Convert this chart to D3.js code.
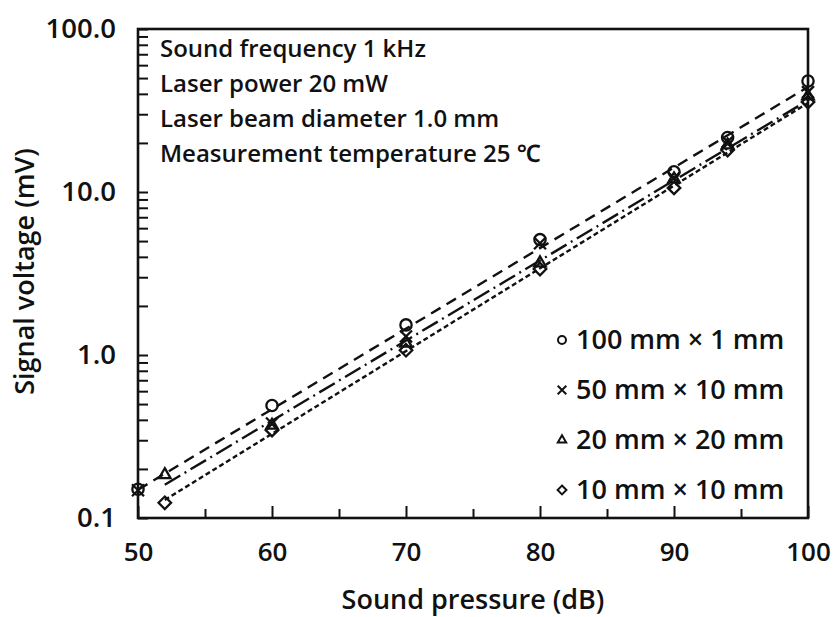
<!DOCTYPE html>
<html>
<head>
<meta charset="utf-8">
<script src="https://cdn.jsdelivr.net/npm/d3@7/dist/d3.min.js"></script>
<style>
  html, body { margin: 0; padding: 0; background: #fff; }
  svg text { font-family: "Open Sans", "Noto Sans", sans-serif; font-weight: 600; fill: #111; }
</style>
</head>
<body>
<svg id="chart" width="833" height="617"></svg>
<script>
// Measured signal voltage (mV) against sound pressure (dB) for four sensor sizes
const seriesNames = ["100 mm × 1 mm", "50 mm × 10 mm", "20 mm × 20 mm", "10 mm × 10 mm"];
const seriesSymbols = ["circle", "cross", "triangle", "diamond"];

const pressure100x1 = [50, 60, 70, 80, 90, 94, 100];
const voltage100x1 = [0.150, 0.49, 1.53, 5.1, 13.3, 21.6, 48.0];

const pressure50x10 = [50, 60, 70, 80, 90, 94, 100];
const voltage50x10 = [0.148, 0.38, 1.30, 4.85, 12.2, 20.3, 41.0];

const pressure20x20 = [52, 60, 70, 80, 90, 94, 100];
const voltage20x20 = [0.184, 0.37, 1.18, 3.67, 12.0, 19.4, 38.8];

const pressure10x10 = [52, 60, 70, 80, 90, 94, 100];
const voltage10x10 = [0.124, 0.346, 1.07, 3.37, 10.6, 18.1, 35.6];

// Fitted trend lines: [start dB, start mV, end dB, end mV]
const fitTop = [50, 0.149, 100, 44.1];
const fitMiddle = [52, 0.16, 100, 36.5];
const fitBottom = [52, 0.129, 100, 35.2];

const xTicks = [50, 60, 70, 80, 90, 100];
const xMinorTicks = [55, 65, 75, 85, 95];
const yTicks = [0.1, 1, 10, 100];
const yTickLabels = ["0.1", "1.0", "10.0", "100.0"];

const notes = [
  "Sound frequency 1 kHz",
  "Laser power 20 mW",
  "Laser beam diameter 1.0 mm",
  "Measurement temperature 25 ℃"
];

const svg = d3.select("#chart");
const plot = { left: 138, right: 808, top: 29, bottom: 518 };

const x = d3.scaleLinear().domain([50, 100]).range([plot.left, plot.right]);
const y = d3.scaleLog().domain([0.1, 100]).range([plot.bottom, plot.top]);

// minor log ticks inside each decade
const yMinor = [];
[0.1, 1, 10].forEach(d => { for (let k = 2; k <= 9; k++) yMinor.push(d * k); });

const g = svg.append("g");

// x axis: major ticks inward with labels below
const xAxis = d3.axisBottom(x).tickValues(xTicks).tickSize(-12).tickPadding(27).tickFormat(d3.format("d"));
const gx = g.append("g").attr("transform", `translate(0,${plot.bottom})`).call(xAxis);
gx.select(".domain").remove();
gx.selectAll(".tick line").attr("stroke", "#111").attr("stroke-width", 2);
gx.selectAll(".tick text").attr("font-size", 26).attr("fill", "#111").attr("dy", "0.62em");

const xMinorAxis = d3.axisBottom(x).tickValues(xMinorTicks).tickSize(-9).tickFormat("");
const gxm = g.append("g").attr("transform", `translate(0,${plot.bottom})`).call(xMinorAxis);
gxm.select(".domain").remove();
gxm.selectAll(".tick line").attr("stroke", "#111").attr("stroke-width", 2);

// y axis: log decades labelled, minor ticks inward
const yAxis = d3.axisLeft(y).tickValues(yTicks).tickSize(-10).tickPadding(22)
  .tickFormat((d, i) => yTickLabels[i]);
const gy = g.append("g").attr("transform", `translate(${plot.left},0)`).call(yAxis);
gy.select(".domain").remove();
gy.selectAll(".tick line").attr("stroke", "#111").attr("stroke-width", 2);
gy.selectAll(".tick text").attr("font-size", 27.5).attr("fill", "#111");

const yMinorAxis = d3.axisLeft(y).tickValues(yMinor).tickSize(-10).tickFormat("");
const gym = g.append("g").attr("transform", `translate(${plot.left},0)`).call(yMinorAxis);
gym.select(".domain").remove();
gym.selectAll(".tick line").attr("stroke", "#111").attr("stroke-width", 2);

// plot frame
g.append("rect")
  .attr("x", plot.left).attr("y", plot.top)
  .attr("width", plot.right - plot.left).attr("height", plot.bottom - plot.top)
  .attr("fill", "none").attr("stroke", "#111").attr("stroke-width", 2.6);

// axis titles
g.append("text")
  .attr("x", (plot.left + plot.right) / 2).attr("y", 609)
  .attr("text-anchor", "middle").attr("font-size", 27)
  .text("Sound pressure (dB)");
g.append("text")
  .attr("transform", `translate(34,${(plot.top + plot.bottom) / 2 - 2}) rotate(-90)`)
  .attr("text-anchor", "middle").attr("font-size", 27)
  .text("Signal voltage (mV)");

// condition notes
g.selectAll("text.note").data(notes).join("text")
  .attr("class", "note")
  .attr("x", 160).attr("y", (d, i) => 57 + i * 35)
  .attr("font-size", 24)
  .text(d => d);

// fitted lines
const fits = [
  { f: fitTop, dash: "11,7" },
  { f: fitMiddle, dash: "18,5,2,5" },
  { f: fitBottom, dash: "5,3" }
];
const line = d3.line().x(d => x(d[0])).y(d => y(d[1]));
g.selectAll("path.fit").data(fits).join("path")
  .attr("class", "fit")
  .attr("d", d => line([[d.f[0], d.f[1]], [d.f[2], d.f[3]]]))
  .attr("fill", "none").attr("stroke", "#111").attr("stroke-width", 2.4)
  .attr("stroke-dasharray", d => d.dash);

// markers
const symbolPath = {
  circle: d3.symbol().type(d3.symbolCircle).size(100),
  cross: d3.symbol().type(d3.symbolTimes).size(95),
  triangle: d3.symbol().type(d3.symbolTriangle2).size(95),
  diamond: d3.symbol().type(d3.symbolDiamond2).size(100)
};
const symbolPathSmall = {
  circle: d3.symbol().type(d3.symbolCircle).size(50),
  cross: d3.symbol().type(d3.symbolTimes).size(50),
  triangle: d3.symbol().type(d3.symbolTriangle2).size(50),
  diamond: d3.symbol().type(d3.symbolDiamond2).size(50)
};

const series = [
  { xs: pressure100x1, ys: voltage100x1 },
  { xs: pressure50x10, ys: voltage50x10 },
  { xs: pressure20x20, ys: voltage20x20 },
  { xs: pressure10x10, ys: voltage10x10 }
];

series.forEach((s, si) => {
  const pts = s.xs.map((v, i) => [v, s.ys[i]]);
  g.append("g").selectAll("path").data(pts).join("path")
    .attr("transform", d => `translate(${x(d[0])},${y(d[1])})`)
    .attr("d", symbolPath[seriesSymbols[si]]())
    .attr("fill", "none").attr("stroke", "#111").attr("stroke-width", 2.3);
});

// legend
const legend = g.append("g");
seriesNames.forEach((name, i) => {
  const cy = 340 + i * 50;
  legend.append("path")
    .attr("transform", `translate(562,${cy})`)
    .attr("d", symbolPathSmall[seriesSymbols[i]]())
    .attr("fill", "none").attr("stroke", "#111").attr("stroke-width", 2);
  legend.append("text")
    .attr("x", 576).attr("y", cy + 9)
    .attr("font-size", 27)
    .text(name);
});
</script>
</body>
</html>
